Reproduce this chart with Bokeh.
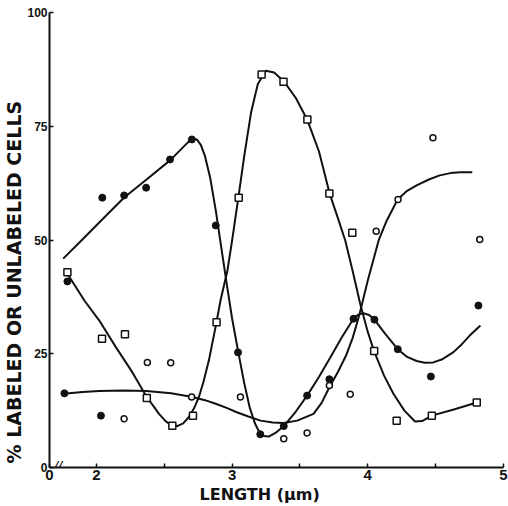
from bokeh.plotting import figure
from bokeh.models import FixedTicker, Label, Range1d, Title
from bokeh.embed import file_html
from bokeh.resources import INLINE

# Left end of the broken length axis; it carries the "0" label.
X_START = 1.655

# Measured points: solid dots, open squares, open circles (length in µm, % of cells)
dot_x = [1.787, 1.765, 2.044, 2.034, 2.205, 2.367, 2.543, 2.704, 2.880, 3.044,
         3.208, 3.381, 3.553, 3.717, 3.895, 4.049, 4.221, 4.465, 4.815]
dot_y = [40.9, 16.3, 59.3, 11.4, 59.8, 61.5, 67.7, 72.1, 53.2, 25.3,
         7.3, 9.1, 15.8, 19.4, 32.7, 32.5, 26.0, 20.0, 35.6]

square_x = [1.787, 2.042, 2.211, 2.372, 2.560, 2.712, 2.886, 3.049, 3.218, 3.379,
            3.555, 3.717, 3.886, 4.047, 4.213, 4.472, 4.803]
square_y = [42.9, 28.3, 29.3, 15.3, 9.2, 11.4, 31.9, 59.3, 86.4, 84.8,
            76.5, 60.2, 51.6, 25.6, 10.3, 11.4, 14.3]

ring_x = [2.205, 2.376, 2.548, 2.702, 3.062, 3.381, 3.553, 3.717, 3.871, 4.062,
          4.223, 4.480, 4.825]
ring_y = [10.7, 23.1, 23.0, 15.5, 15.5, 6.3, 7.6, 18.0, 16.1, 51.9,
          58.9, 72.5, 50.1]

# Hand-fitted trend curves, traced as vertex lists
curve_a_x = [1.756, 1.89, 2.04, 2.203, 2.37, 2.543, 2.62, 2.673, 2.709, 2.74,
             2.77, 2.80, 2.84, 2.88, 2.92, 2.96, 3.00, 3.047, 3.09, 3.13,
             3.17, 3.20, 3.235, 3.27, 3.32, 3.381, 3.47, 3.553, 3.64, 3.724,
             3.81, 3.895, 3.93, 3.968, 4.01, 4.049, 4.13, 4.221, 4.29, 4.36,
             4.42, 4.482, 4.55, 4.629, 4.69, 4.751, 4.83]
curve_a_y = [45.9, 49.9, 54.4, 59.3, 63.3, 67.5, 69.8, 71.4, 72.3, 72.1,
             70.9, 68.5, 63.5, 56.5, 48.5, 40.5, 32.8, 25.2, 18.5, 13.2,
             9.6, 7.8, 6.9, 6.8, 7.6, 9.1, 12.3, 15.8, 19.9, 24.2,
             28.7, 32.7, 33.6, 33.9, 33.5, 32.5, 29.3, 26.0, 24.3, 23.4,
             23.0, 23.1, 23.8, 25.3, 27.0, 29.0, 31.2]

curve_b_x = [1.787, 1.912, 2.022, 2.145, 2.266, 2.365, 2.462, 2.51, 2.548, 2.596,
             2.64, 2.682, 2.72, 2.756, 2.79, 2.829, 2.878, 2.915, 2.966, 3.00,
             3.047, 3.09, 3.14, 3.19, 3.25, 3.31, 3.381, 3.47, 3.553, 3.64,
             3.719, 3.78, 3.834, 3.89, 3.944, 4.00, 4.047, 4.12, 4.189, 4.27,
             4.348, 4.40, 4.472, 4.64, 4.803]
curve_b_y = [42.6, 36.7, 32.3, 26.4, 20.9, 15.8, 11.8, 10.2, 9.4, 9.1,
             9.7, 11.1, 13.0, 15.5, 18.9, 23.5, 30.8, 36.7, 43.3, 49.8,
             59.4, 68.5, 78.0, 84.3, 87.2, 86.8, 84.9, 81.2, 76.5, 69.5,
             60.2, 54.8, 49.9, 43.0, 36.0, 29.8, 25.5, 20.2, 16.2, 12.5,
             10.1, 10.2, 11.4, 12.8, 14.3]

curve_c_x = [1.758, 1.90, 2.02, 2.20, 2.37, 2.55, 2.71, 2.80, 2.88, 2.96,
             3.03, 3.12, 3.21, 3.30, 3.38, 3.48, 3.60, 3.66, 3.72, 3.78,
             3.84, 3.89, 3.94, 4.00, 4.08, 4.14, 4.22, 4.29, 4.36, 4.45,
             4.53, 4.61, 4.68, 4.77]
curve_c_y = [16.2, 16.6, 16.8, 16.9, 16.8, 16.3, 15.5, 14.8, 14.0, 13.1,
             12.2, 11.2, 10.3, 9.9, 9.8, 10.3, 11.8, 14.2, 17.8, 21.0,
             24.6, 28.6, 33.8, 41.1, 49.9, 54.3, 58.9, 60.8, 62.0, 63.3,
             64.2, 64.7, 64.9, 64.9]

x_ticks = [X_START, 2, 3, 4, 5]
x_minor_ticks = [2.5, 3.5, 4.5]
y_ticks = [0, 25, 50, 75, 100]

INK = "#111111"

p = figure(width=508, height=506, output_backend="svg", toolbar_location=None,
           x_range=Range1d(X_START, 5.0), y_range=Range1d(0, 100),
           min_border_left=48, min_border_right=5, min_border_top=12,
           min_border_bottom=39)
p.outline_line_color = None
p.xgrid.visible = False
p.ygrid.visible = False
p.background_fill_color = "white"
p.border_fill_color = "white"

for ax in (p.xaxis[0], p.yaxis[0]):
    ax.axis_line_width = 2
    ax.axis_line_color = INK
    ax.major_tick_in = 4
    ax.major_tick_out = 0
    ax.minor_tick_in = 4
    ax.minor_tick_out = 0
    ax.major_tick_line_width = 1.5
    ax.minor_tick_line_width = 1.5
    ax.major_tick_line_color = INK
    ax.minor_tick_line_color = INK
    ax.major_label_text_font = "Liberation Sans"
    ax.major_label_text_font_style = "bold"
    ax.major_label_text_color = INK

p.xaxis.ticker = FixedTicker(ticks=x_ticks, minor_ticks=x_minor_ticks)
p.xaxis.major_label_overrides = {X_START: "0"}
p.xaxis.major_label_text_font_size = "15px"
p.xaxis.major_label_standoff = 2

p.yaxis.ticker = FixedTicker(ticks=y_ticks, minor_ticks=[])
p.yaxis.major_label_text_font_size = "12px"
p.yaxis.major_label_standoff = 2

# axis titles, set as side titles so they can be shifted along the frame
x_title = Title(text="LENGTH (μm)", align="left", offset=150, standoff=0,
                text_font="DejaVu Sans", text_font_style="bold",
                text_font_size="16px", text_color=INK)
y_title = Title(text="% LABELED OR UNLABELED CELLS", align="left", offset=4,
                standoff=0, text_font="DejaVu Sans", text_font_style="bold",
                text_font_size="19px", text_color=INK)
p.add_layout(x_title, "below")
p.add_layout(y_title, "left")

# trend curves
for cx, cy in ((curve_a_x, curve_a_y), (curve_b_x, curve_b_y), (curve_c_x, curve_c_y)):
    p.line(cx, cy, line_color=INK, line_width=2, line_join="round")

# measured points on top of the curves
p.scatter(dot_x, dot_y, marker="circle", size=7, fill_color=INK, line_color=INK)
p.scatter(square_x, square_y, marker="square", size=7, fill_color="white",
          line_color=INK, line_width=1.5)
p.scatter(ring_x, ring_y, marker="circle", size=6, fill_color="white",
          line_color=INK, line_width=1.5)

# axis break mark
p.add_layout(Label(x=1.721, y=0.4, text="//", text_align="center",
                   text_baseline="middle", text_font="DejaVu Sans",
                   text_font_style="bold italic", text_font_size="11px",
                   text_color=INK))

open("out.html", "w").write(file_html(p, INLINE))
